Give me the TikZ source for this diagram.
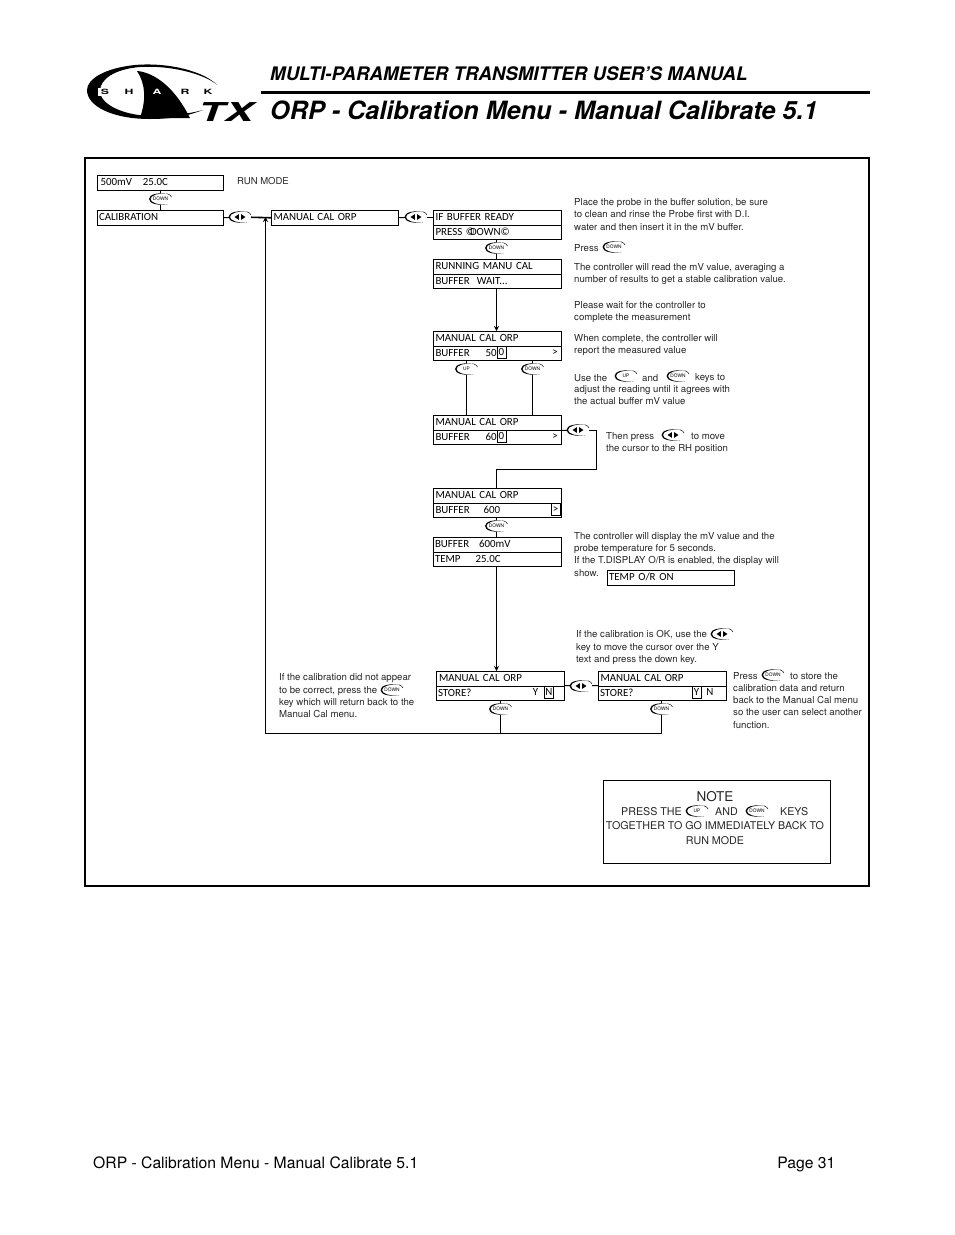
\documentclass[tikz,border=0pt]{standalone}
\usepackage{fontspec}
\setmainfont{TeX Gyre Heros}
\newfontfamily\lcdfont[WordSpace=0.6]{Carlito}
\usetikzlibrary{arrows.meta}
\newcommand{\fs}[1]{\fontsize{#1}{#1}\selectfont}
\tikzset{
 x=1pt,y=-1pt,
 lcd/.style={draw,line width=1pt,anchor=north west,inner xsep=1.5pt,inner ysep=0pt,text height=7.8pt,text depth=1.6pt,minimum height=14.5pt,align=left,font=\lcdfont\fs{10.9}},
 cell/.style={draw,line width=1pt,inner sep=0pt,minimum width=9pt,minimum height=12pt,text height=7.8pt,text depth=1.6pt,font=\lcdfont\fs{10.9}},
 lcdtxt/.style={inner sep=0pt,text height=7.8pt,text depth=1.6pt,font=\lcdfont\fs{10.9}},
 lbl/.style={anchor=west,yshift=-0.8pt,inner sep=0pt,align=left,font=\fs{9.62},text=black!85,execute at begin node={\setlength{\baselineskip}{12.4pt}}},
 notetxt/.style={inner sep=0pt,yshift=-0.6pt,font=\fs{10.7},text=black!85},
 keylbl/.style={inner sep=0pt,minimum width=22pt,minimum height=11pt,font=\fs{4.8},fill=white},
 logoletter/.style={inner sep=0pt,font=\bfseries\fs{7.2},xscale=1.7},
 conn/.style={line width=1pt},
 thickconn/.style={line width=1.6pt},
 tip/.style={-{Stealth[length=5pt,width=5pt]}},
}
% key outline: crescent at left, thin arcs, small tick at right
\newcommand{\keyglyph}[2]{%
 \begin{scope}[shift={(#1,#2)}]
 \fill (7,-5.2) .. controls (-3,-6.8) and (-11.5,-4.5) .. (-11.5,0) .. controls (-11.5,4.5) and (-3,6.8) .. (7,5.2)
   .. controls (-3,6) and (-9.9,3.7) .. (-9.9,0) .. controls (-9.9,-3.7) and (-3,-6) .. (7,-5.2) -- cycle;
 \draw[line width=.5pt] (7,-5.2) .. controls (9,-4.6) and (10.5,-3.5) .. (11,-2);
 \end{scope}}
\newcommand{\keytext}[4]{% name,x,y,text
 \node[keylbl] (#1) at (#2,#3) {#4};\keyglyph{#2}{#3}}
\newcommand{\keydown}[3]{\keytext{#1}{#2}{#3}{DOWN}}
\newcommand{\keyup}[3]{\keytext{#1}{#2}{#3}{UP}}
\newcommand{\keylr}[3]{%
 \node[keylbl] (#1) at (#2,#3) {};\keyglyph{#2}{#3}
 \begin{scope}[shift={(#2,#3)}]
 \fill (-1.2,-2.8) -- (-1.2,2.8) -- (-5.4,0) -- cycle;
 \fill (1.2,-2.8) -- (1.2,2.8) -- (5.4,0) -- cycle;
 \end{scope}}
\begin{document}
\begin{tikzpicture}
\useasboundingbox (0,0) rectangle (954,1235);
\fill[white] (0,0) rectangle (954,1235);
% logo
\fill (217,85) .. controls (205,72) and (170,62) .. (135,65) .. controls (105,68) and (87,79) .. (87,90)
 .. controls (87,106) and (112,119) .. (150,119) .. controls (175,119) and (190,115) .. (203,110)
 .. controls (188,114) and (172,116) .. (150,116) .. controls (122,115) and (100,104) .. (100,91)
 .. controls (100,79) and (115,69) .. (140,67) .. controls (170,65) and (205,74) .. (217,85) -- cycle;
\fill[white] (98,87.5) rectangle (147,96);
\fill (137,71) .. controls (150,72) and (172,82) .. (190,118) -- (140,118) .. controls (146,100) and (146,85) .. (137,71) -- cycle;
\node[logoletter] (logoS) at (105,92) {S};
\node[logoletter] (logoH) at (129,92) {H};
\node[logoletter,text=white] (logoA) at (157,92) {A};
\node[logoletter] (logoR) at (185,92) {R};
\node[logoletter] (logoK) at (208,92) {K};
\node[inner sep=0pt,anchor=base west,font=\bfseries\itshape\fs{26},xscale=1.65] (logoTX) at (198,121) {TX};
% header
\node[inner sep=0pt,anchor=base west,font=\bfseries\itshape\fs{18.67}] (head1) at (270,80) {MULTI-PARAMETER TRANSMITTER USER’S MANUAL};
\draw[line width=3pt] (261,92.5) -- (870,92.5);
\node[inner sep=0pt,anchor=base west,font=\bfseries\itshape\fs{25.2}] (head2) at (270,119) {ORP - Calibration Menu - Manual Calibrate 5.1};
% frame
\draw[line width=2pt] (85,158) rectangle (869,886);
% boxes
\node[lcd,text width=122.5pt] (run) at (97,175) {\hspace{1.5pt}500mV\ \ \ 25.0C};
\node[lcd,text width=122.5pt] (cal) at (97,210) {CALIBRATION};
\node[lcd,text width=123.5pt] (mcal) at (271,210) {\hspace{0.5pt}MANUAL CAL ORP};
\node[lcd,text width=124.5pt] (ifa) at (433,210) {\hspace{0.5pt}IF BUFFER READY};
\node[lcd,text width=124.5pt] (ifb) at (433,224.5) {\hspace{0.5pt}PRESS ©\kern-5pt DOWN©};
\node[lcd,text width=124.5pt] (rua) at (433,259) {\hspace{0.5pt}RUNNING MANU CAL};
\node[lcd,text width=124.5pt] (rub) at (433,273.5) {\hspace{0.5pt}BUFFER\ \ WAIT...};
\node[lcd,text width=124.5pt] (ma) at (433,331) {\hspace{0.5pt}MANUAL CAL ORP};
\node[lcd,text width=124.5pt] (mb) at (433,345.5) {\hspace{0.5pt}BUFFER\hspace{16pt}50};
\node[cell] (mbc) at (501.5,352.5) {0};
\node[lcdtxt] (mbg) at (555,352.5) {>};
\node[lcd,text width=124.5pt] (na) at (433,415) {\hspace{0.5pt}MANUAL CAL ORP};
\node[lcd,text width=124.5pt] (nb) at (433,429.5) {\hspace{0.5pt}BUFFER\hspace{16pt}60};
\node[cell] (nbc) at (501.5,436.5) {0};
\node[lcdtxt] (nbg) at (555,436.5) {>};
\node[lcd,text width=124.5pt] (pa) at (433,488) {\hspace{0.5pt}MANUAL CAL ORP};
\node[lcd,text width=124.5pt] (pb) at (433,502.5) {\hspace{0.5pt}BUFFER\hspace{14pt}600};
\node[cell] (pbc) at (555.5,509.5) {>};
\node[lcd,text width=124.5pt] (ta) at (433,537) {BUFFER\hspace{10pt}600mV};
\node[lcd,text width=124.5pt] (tb) at (433,551.5) {TEMP\hspace{15pt}25.0C};
\node[lcd,text width=123.5pt,line width=1.2pt] (tor) at (607,570) {TEMP O/R ON};
\node[lcd,text width=124.5pt] (sa) at (436,671) {\hspace{1pt}MANUAL CAL ORP};
\node[lcd,text width=124.5pt] (sb) at (436,685.5) {STORE?};
\node[lcdtxt] (sby) at (535.5,692.5) {Y};
\node[cell] (sbc) at (549,692.5) {N};
\node[lcd,text width=124.5pt] (ya) at (598,671) {\hspace{0.5pt}MANUAL CAL ORP};
\node[lcd,text width=124.5pt] (yb) at (598,685.5) {STORE?};
\node[cell] (ybc) at (696.5,692.5) {Y};
\node[lcdtxt] (ybn) at (710,692.5) {N};
% keys
\keydown{k1}{160.5}{199}
\keylr{k2}{240}{217}
\keylr{k3}{416}{217}
\keydown{k4}{496.5}{248}
\keyup{k5}{466.5}{369}
\keydown{k6}{532.5}{369}
\keylr{k7}{578}{430}
\keydown{k8}{496.5}{526}
\keylr{k9}{581}{686}
\keydown{k10}{500.5}{709}
\keydown{k11}{661.5}{709}
% connectors
\draw[conn] (run.south -| k1) -- (k1);
\draw[conn] (k1) -- (cal.north -| k1);
\draw[conn] (cal.east) -- (k2);
\draw[thickconn] (k2) -- (mcal.west);
\draw[conn] (mcal.east) -- (k3);
\draw[conn] (k3) -- (ifa.west |- k3);
\draw[conn] (ifb.south -| k4) -- (k4);
\draw[conn] (k4) -- (rua.north -| k4);
\draw[thickconn,tip] (rub.south -| k4) -- (ma.north -| k4);
\draw[conn] (mb.south -| k5) -- (k5);
\draw[conn] (k5) -- (na.north -| k5);
\draw[conn] (mb.south -| k6) -- (k6);
\draw[conn] (k6) -- (na.north -| k6);
\coordinate (c1) at (596.5,430);
\coordinate (c2) at (596.5,469.5);
\coordinate (c3) at (496.5,469.5);
\draw[conn] (na.south east) -- (k7);
\draw[conn] (k7) -- (c1) -- (c2) -- (c3) -- (pa.north -| c3);
\draw[conn] (pb.south -| k8) -- (k8);
\draw[conn] (k8) -- (ta.north -| k8);
\draw[conn,tip] (tb.south -| k8) -- (sa.north -| k8);
\draw[conn] (sb.north east) -- (k9);
\draw[conn] (k9) -- (yb.north west);
\coordinate (r1) at (500.5,733.5);
\coordinate (r2) at (661.5,733.5);
\coordinate (r3) at (265.5,733.5);
\coordinate (r4) at (265.5,217);
\draw[conn] (sb.south -| k10) -- (k10);
\draw[conn] (k10) -- (r1);
\draw[conn] (yb.south -| k11) -- (k11);
\draw[conn] (k11) -- (r2);
\draw[thickconn] (r2) -- (r3);
\draw[conn,tip] (r3) -- (r4);
% labels
\node[lbl,font=\fs{9.5}] (t0) at (237,180.5) {RUN MODE};
\node[lbl,anchor=north west] (t1) at (574,197.5) {Place the probe in the buffer solution, be sure\\to clean and rinse the Probe first with D.I.\\water and then insert it in the mV buffer.};
\node[lbl] (t2) at (574,247) {Press};
\keydown{i1}{614}{247}
\node[lbl,anchor=north west] (t3) at (574,262.5) {The controller will read the mV value, averaging a\\number of results to get a stable calibration value.};
\node[lbl,anchor=north west] (t4) at (574,300.5) {Please wait for the controller to\\complete the measurement};
\node[lbl,anchor=north west] (t5) at (574,333) {When complete, the controller will\\report the measured value};
\node[lbl] (t6a) at (574,377) {Use the};
\keyup{i2}{626}{376}
\node[lbl] (t6b) at (642,377) {and};
\keydown{i3}{678}{376}
\node[lbl] (t6c) at (695,377) {keys to};
\node[lbl,anchor=north west] (t6d) at (574,384.5) {adjust the reading until it agrees with\\the actual buffer mV value};
\node[lbl] (t7a) at (606,436) {Then press};
\keylr{i4}{673}{435}
\node[lbl] (t7b) at (691,436) {to move};
\node[lbl] (t7c) at (606,448) {the cursor to the RH position};
\node[lbl,anchor=north west] (t8) at (574,531) {The controller will display the mV value and the\\probe temperature for 5 seconds.\\If the T.DISPLAY O/R is enabled, the display will\\show.};
\node[lbl] (t9a) at (576,634) {If the calibration is OK, use the};
\keylr{i5}{722}{634}
\node[lbl,anchor=north west] (t9b) at (576,642) {key to move the cursor over the Y\\text and press the down key.};
\node[lbl] (t10a) at (733,675) {Press};
\keydown{i6}{773}{675}
\node[lbl] (t10b) at (790,675) {to store the};
\node[lbl,anchor=north west] (t10c) at (733,683) {calibration data and return\\back to the Manual Cal menu\\so the user can select another\\function.};
\node[lbl] (t11a) at (279,677) {If the calibration did not appear};
\node[lbl] (t11b) at (279,690) {to be correct, press the};
\keydown{i7}{392}{690}
\node[lbl,anchor=north west] (t11c) at (279,697) {key which will return back to the\\Manual Cal menu.};
% note
\node[draw,line width=1pt,anchor=north west,minimum width=227pt,minimum height=82.5pt,inner sep=0pt] (note) at (603,780) {};
\node[notetxt,font=\fs{13.5}] (n0) at (715,796) {NOTE};
\node[notetxt,anchor=west] (n1) at (621,811) {PRESS THE};
\keyup{i8}{697}{811}
\node[notetxt,anchor=west] (n2) at (715,811) {AND};
\keydown{i9}{757}{811}
\node[notetxt,anchor=west] (n3) at (780,811) {KEYS};
\node[notetxt] (n4) at (715,825) {TOGETHER TO GO IMMEDIATELY BACK TO};
\node[notetxt] (n5) at (715,840) {RUN MODE};
% footer
\node[inner sep=0pt,anchor=base west,font=\fs{15.7}] (f1) at (93,1168.5) {ORP - Calibration Menu - Manual Calibrate 5.1};
\node[inner sep=0pt,anchor=base east,font=\fs{15.7}] (f2) at (835.5,1168.5) {Page 31};
\end{tikzpicture}
\end{document}
